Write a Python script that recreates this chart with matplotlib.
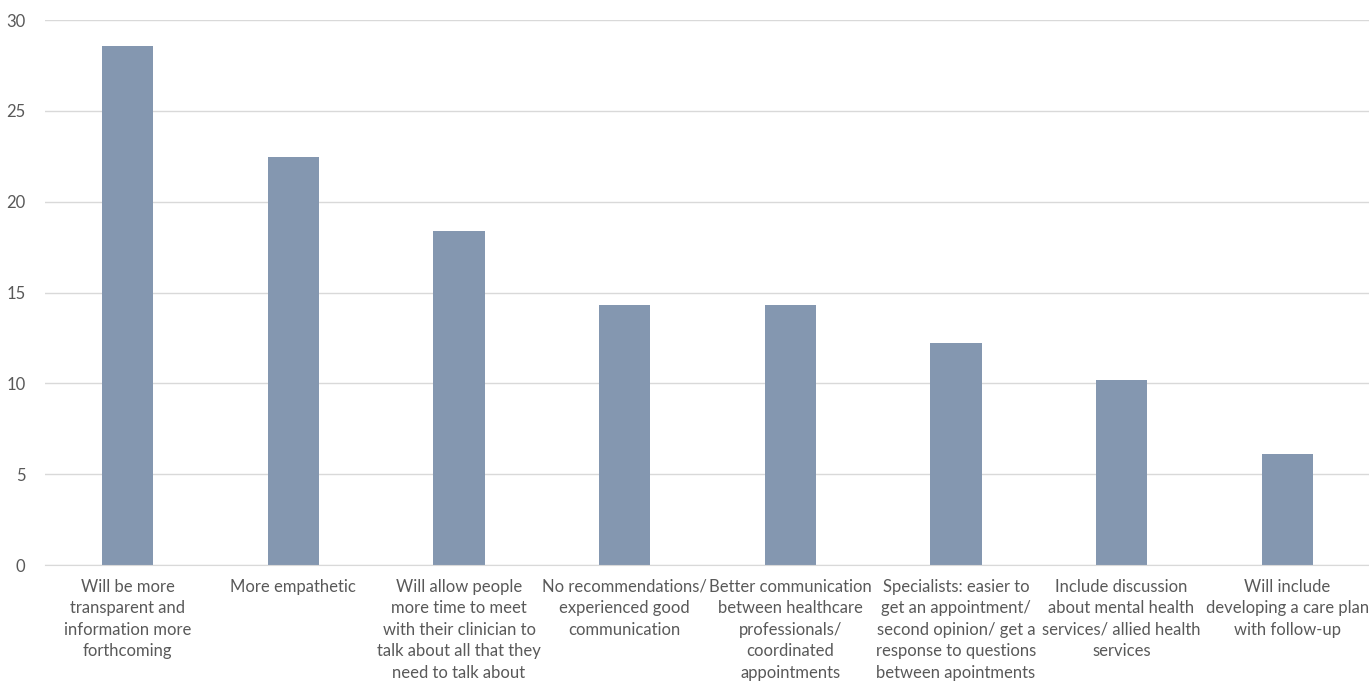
import matplotlib
matplotlib.use("Agg")
import matplotlib.pyplot as plt
import numpy as np

plt.rcParams['font.family'] = ['Lato', 'DejaVu Sans']

categories = [
    "Will be more\ntransparent and\ninformation more\nforthcoming",
    "More empathetic",
    "Will allow people\nmore time to meet\nwith their clinician to\ntalk about all that they\nneed to talk about",
    "No recommendations/\nexperienced good\ncommunication",
    "Better communication\nbetween healthcare\nprofessionals/\ncoordinated\nappointments",
    "Specialists: easier to\nget an appointment/\nsecond opinion/ get a\nresponse to questions\nbetween apointments",
    "Include discussion\nabout mental health\nservices/ allied health\nservices",
    "Will include\ndeveloping a care plan\nwith follow-up",
]
values = [28.57, 22.45, 18.37, 14.29, 14.29, 12.24, 10.20, 6.12]
yticks = [0, 5, 10, 15, 20, 25, 30]

fig = plt.figure(figsize=(13.69, 6.82), dpi=100)
ax = fig.add_axes([45 / 1369, 1 - 565 / 682, 1325 / 1369, 545 / 682])

x = np.arange(len(categories))
ax.bar(x, values, width=0.31, color="#8497b0", zorder=2)

ax.set_xlim(-0.5, len(categories) - 0.5)
ax.set_ylim(0, 30)
ax.set_yticks(yticks)
ax.set_xticks(x)
ax.set_xticklabels(categories, fontsize=12, color="#595959", linespacing=1.42, va="top")
ax.tick_params(axis="y", labelsize=12, labelcolor="#595959", length=0, pad=14)
ax.tick_params(axis="x", length=0, pad=10)
ax.yaxis.grid(True, color="#d9d9d9", linewidth=1, zorder=0)
for s in ["top", "right", "left"]:
    ax.spines[s].set_visible(False)
ax.spines["bottom"].set_color("#d9d9d9")

fig.savefig("out.png", dpi=100)
